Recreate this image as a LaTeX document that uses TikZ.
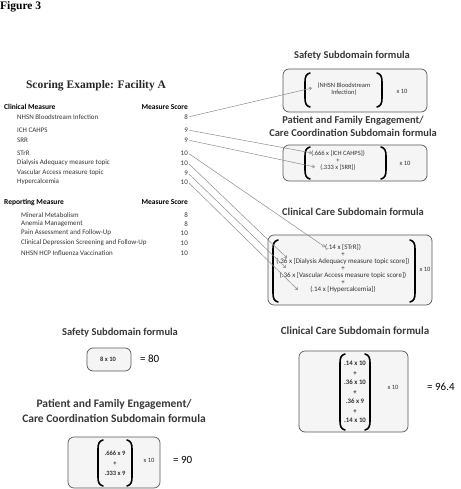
\documentclass[tikz,border=0pt]{standalone}
\usepackage{fontspec}
\setmainfont{Carlito}
\newfontfamily\serifttl{Liberation Serif}
\usetikzlibrary{arrows.meta}

% tall round brackets: x, top, bottom
\newcommand{\lbrk}[3]{\draw[brk] (#1+5,#2) .. controls (#1+1,#2+1) and (#1,#2+4) .. (#1,#2+9) -- (#1,#3-9) .. controls (#1,#3-4) and (#1+1,#3-1) .. (#1+5,#3);}
\newcommand{\rbrk}[3]{\draw[brk] (#1-5,#2) .. controls (#1-1,#2+1) and (#1,#2+4) .. (#1,#2+9) -- (#1,#3-9) .. controls (#1,#3-4) and (#1-1,#3-1) .. (#1-5,#3);}

\tikzset{
  formbox/.style={draw=black!65, fill=black!4, rounded corners=6pt, line width=0.7pt},
  brk/.style={line width=1.6pt, line cap=round},
  head/.style={font=\bfseries\fontsize{7.5}{9}\selectfont, inner sep=0pt},
  item/.style={anchor=west, font=\fontsize{7}{9}\selectfont, text=black!80, inner sep=0pt},
  score/.style={anchor=east, font=\fontsize{7}{9}\selectfont, text=black!80, inner sep=0pt},
  subttl/.style={font=\bfseries\fontsize{10.5}{13}\selectfont, text=black!78, align=center, inner sep=0pt},
  term/.style={font=\fontsize{6.5}{7}\selectfont, text=black!80, align=center, inner sep=0pt},
  result/.style={anchor=west, font=\fontsize{11}{13}\selectfont, inner sep=0pt},
  lnk/.style={draw=black!45, line width=0.5pt, shorten <=1.5pt, -{Straight Barb[length=2.5pt,width=3.5pt]}}
}

\begin{document}
\begin{tikzpicture}[x=1pt,y=-1pt]
\useasboundingbox (0,0) rectangle (460,489);

% Heading
\node[anchor=west, inner sep=0pt, font=\serifttl\bfseries\fontsize{11.5}{13}\selectfont] (fig) at (0,7) {Figure 3};
\node[font=\serifttl\bfseries\fontsize{11.5}{13}\selectfont, text=black!85] (ttl) at (96,86) {Scoring Example: Facility A};

% Clinical measures
\node[head, anchor=west] (cmhead) at (4,107) {Clinical Measure};
\node[head, anchor=east] (mshead) at (188,107) {Measure Score};
\node[item] (m1) at (17,117) {NHSN Bloodstream Infection};
\node[score] (s1) at (188,117) {8};
\node[item] (m2) at (17,130) {ICH CAHPS};
\node[score] (s2) at (188,130) {9};
\node[item] (m3) at (17,140) {SRR};
\node[score] (s3) at (188,140) {9};
\node[item] (m4) at (17,153) {STrR};
\node[score] (s4) at (188,153) {10};
\node[item] (m5) at (17,163) {Dialysis Adequacy measure topic};
\node[score] (s5) at (188,163) {10};
\node[item] (m6) at (17,173) {Vascular Access measure topic};
\node[score] (s6) at (188,173) {9};
\node[item] (m7) at (17,182) {Hypercalcemia};
\node[score] (s7) at (188,182) {10};

% Reporting measures
\node[head, anchor=west] (rmhead) at (4,202) {Reporting Measure};
\node[head, anchor=east] (rshead) at (188,202) {Measure Score};
\node[item] (r1) at (21,215) {Mineral Metabolism};
\node[score] (q1) at (188,215) {8};
\node[item] (r2) at (21,224) {Anemia Management};
\node[score] (q2) at (188,224) {8};
\node[item] (r3) at (21,233) {Pain Assessment and Follow-Up};
\node[score] (q3) at (188,233) {10};
\node[item] (r4) at (21,243) {Clinical Depression Screening and Follow-Up};
\node[score] (q4) at (188,243) {10};
\node[item] (r5) at (21,253) {NHSN HCP Influenza Vaccination};
\node[score] (q5) at (188,253) {10};

% Safety formula (top)
\node[subttl] (safettl) at (352,56) {Safety Subdomain formula};
\draw[formbox] (283,69) rectangle (427,112);
\lbrk{305}{73}{107}
\rbrk{382}{73}{107}
\node[term] (safeterm) at (344,89) {(NHSN Bloodstream\\Infection)};
\node[term] (safex) at (402,91) {x 10};
\coordinate (t1) at (312,88);

% Patient and family engagement formula (top)
\node[subttl] (pfettl) at (353,126) {Patient and Family Engagement/\\Care Coordination Subdomain formula};
\draw[formbox] (283,145) rectangle (427,181);
\lbrk{305}{147}{179}
\rbrk{386}{147}{179}
\node[term] (pfeterm) at (338,161) {(.666 x [ICH CAHPS])\\+\\(.333 x [SRR])};
\node[term] (pfex) at (405,163) {x 10};
\coordinate (t2) at (312,153);
\coordinate (t3) at (315,167);

% Clinical care formula (top)
\node[subttl] (ccttl) at (353,212) {Clinical Care Subdomain formula};
\draw[formbox] (268,235) rectangle (432,305);
\lbrk{273}{240}{302}
\rbrk{415}{240}{302}
\node[term, font=\fontsize{7}{7}\selectfont] (ccterm) at (343,269) {(.14 x [STrR])\\+\\(.36 x [Dialysis Adequacy measure topic score])\\+\\(.36 x [Vascular Access measure topic score])\\+\\(.14 x [Hypercalcemia])};
\node[term] (ccx) at (425,269) {x 10};
\coordinate (t4) at (325,247);
\coordinate (t5) at (287,258);
\coordinate (t6) at (286,268);
\coordinate (t7) at (298,290);

% Score links
\draw[lnk] (s1.east) -- (t1);
\draw[lnk] (s2.east) -- (t2);
\draw[lnk] (s3.east) -- (t3);
\draw[lnk] (s4.east) -- (t4);
\draw[lnk] (s5.east) -- (t5);
\draw[lnk] (s6.east) -- (t6);
\draw[lnk] (s7.east) -- (t7);

% Safety result (bottom)
\node[subttl] (safettl2) at (120,333) {Safety Subdomain formula};
\draw[formbox] (87,348) rectangle (131,371);
\node[term, font=\bfseries\fontsize{6.5}{7}\selectfont] (safecalc) at (108,359) {8 x 10};
\node[result] (saferes) at (140,359) {= 80};

% Patient and family engagement result (bottom)
\node[subttl, font=\bfseries\fontsize{11.5}{15}\selectfont] (pfettl2) at (114,411) {Patient and Family Engagement/\\Care Coordination Subdomain formula};
\draw[formbox] (68,437) rectangle (160,488);
\lbrk{98}{440}{486}
\rbrk{132}{440}{486}
\node[term, font=\bfseries\fontsize{6.5}{10}\selectfont] (pfecalc) at (115,463) {.666 x 9\\+\\.333 x 9};
\node[term] (pfex2) at (149,460) {x 10};
\node[result] (pferes) at (173,460) {= 90};

% Clinical care result (bottom)
\node[subttl, font=\bfseries\fontsize{11}{13}\selectfont] (ccttl2) at (355,331) {Clinical Care Subdomain formula};
\draw[formbox] (299,351) rectangle (408,432);
\lbrk{340}{354}{430}
\rbrk{370}{354}{430}
\node[term, font=\bfseries\fontsize{6.8}{9.5}\selectfont] (cccalc) at (355,392) {.14 x 10\\+\\.36 x 10\\+\\.36 x 9\\+\\.14 x 10};
\node[term] (ccx2) at (393,387) {x 10};
\node[result] (ccres) at (427,387) {= 96.4};

\end{tikzpicture}
\end{document}
